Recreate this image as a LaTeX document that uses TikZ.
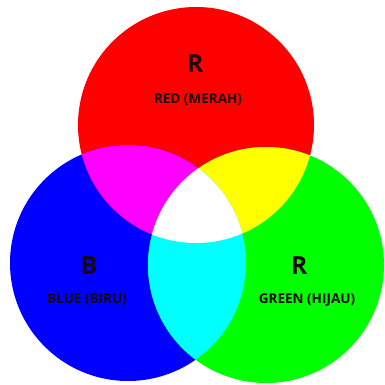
\documentclass[tikz,border=0pt]{standalone}
\usepackage{fontspec}
\setmainfont{Open Sans}
\definecolor{pRed}{RGB}{255,0,0}
\definecolor{pGreen}{RGB}{0,255,0}
\definecolor{pBlue}{RGB}{0,0,255}
\definecolor{pCyan}{RGB}{0,255,255}
\definecolor{pMagenta}{RGB}{255,0,255}
\definecolor{pYellow}{RGB}{255,255,0}
\definecolor{txt}{RGB}{25,10,10}
\begin{document}
\begin{tikzpicture}[x=1pt,y=-1pt,
  bigletter/.style={font=\bfseries\fontsize{25}{27}\selectfont, text=txt, inner sep=0pt},
  smalllabel/.style={font=\bfseries\fontsize{13.5}{15}\selectfont, text=txt, inner sep=0pt}]
\useasboundingbox[fill=white] (0,0) rectangle (384,385);
\def\rad{118}
\coordinate (cr) at (196,125);
\coordinate (cb) at (128,263);
\coordinate (cg) at (266,265);
% primary discs
\fill[pRed] (cr) circle (\rad);
\fill[pBlue] (cb) circle (\rad);
\fill[pGreen] (cg) circle (\rad);
% pairwise overlaps
\begin{scope}
  \clip (cr) circle (\rad);
  \fill[pMagenta] (cb) circle (\rad);
  \fill[pYellow] (cg) circle (\rad);
\end{scope}
\begin{scope}
  \clip (cb) circle (\rad);
  \fill[pCyan] (cg) circle (\rad);
\end{scope}
% triple overlap
\begin{scope}
  \clip (cr) circle (\rad);
  \clip (cb) circle (\rad);
  \fill[white] (cg) circle (\rad);
\end{scope}
% labels
\node[bigletter] (lr) at (195,64) {R};
\node[smalllabel] (tr) at (198,100) {RED (MERAH)};
\node[bigletter] (lb) at (89,266) {B};
\node[smalllabel] (tb) at (87,300) {BLUE (BIRU)};
\node[bigletter] (lg) at (299,266) {R};
\node[smalllabel] (tg) at (307,300) {GREEN (HIJAU)};
\end{tikzpicture}
\end{document}
